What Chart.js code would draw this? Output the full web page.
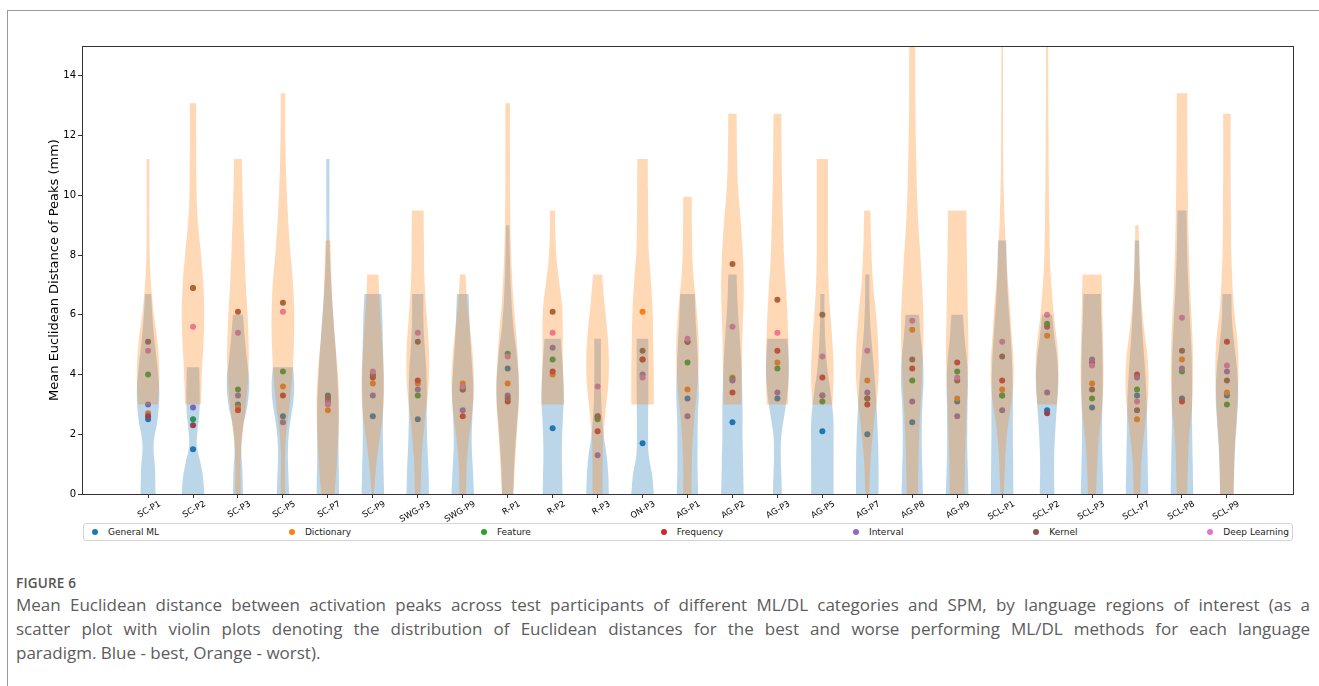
<!DOCTYPE html>
<html>
<head>
<meta charset="utf-8">
<script src="https://cdn.jsdelivr.net/npm/chart.js@4.4.1/dist/chart.umd.min.js"></script>
<style>
  body { margin: 0; background: #fff; }
  #wrap { position: relative; width: 1319px; height: 686px; overflow: hidden; background: #fff; }
  #frame { position: absolute; left: 7px; top: 10px; right: -2px; bottom: -2px;
           border-top: 1px solid #9a9a9a; border-left: 1px solid #9a9a9a; }
  #c { position: absolute; left: 0; top: 0; }
  #legend { position: absolute; left: 83px; top: 523px; width: 1197px; height: 16px;
            border: 1px solid #d4d4d4; border-radius: 3px; background: #fff;
            display: flex; justify-content: space-between; align-items: center;
            padding: 0 3px 0 8px; font: 9px "DejaVu Sans", sans-serif; color: #222; }
  #legend .item { display: flex; align-items: center; white-space: nowrap; }
  #legend .dot { width: 6px; height: 6px; border-radius: 50%; margin-right: 10px; }
  #figno { position: absolute; left: 16px; top: 574px; font: 600 13.5px "Open Sans", sans-serif;
           color: #555; letter-spacing: 0.2px; }
  #caption { position: absolute; left: 16px; top: 593px; width: 1294px;
             font-family: "Open Sans", sans-serif; font-size: 17px; line-height: 24px; color: #5c5c5c; }
  #caption div { white-space: nowrap; }
  #caption .j { text-align: justify; text-align-last: justify; }
</style>
</head>
<body>
<div id="wrap">
  <div id="frame"></div>
  <canvas id="c" width="1319" height="560"></canvas>
  <div id="legend"></div>
  <div id="figno">FIGURE 6</div>
  <div id="caption">
    <div class="ln"><span>Mean Euclidean distance between activation peaks across test participants of different ML/DL categories and SPM, by language regions of interest (as a</span></div>
    <div class="ln"><span>scatter plot with violin plots denoting the distribution of Euclidean distances for the best and worse performing ML/DL methods for each language</span></div>
    <div><span>paradigm. Blue - best, Orange - worst).</span></div>
  </div>
</div>
<script>
const categories = ['SC-P1', 'SC-P2', 'SC-P3', 'SC-P5', 'SC-P7', 'SC-P9', 'SWG-P3', 'SWG-P9',
  'R-P1', 'R-P2', 'R-P3', 'ON-P3', 'AG-P1', 'AG-P2', 'AG-P3', 'AG-P5', 'AG-P7', 'AG-P8',
  'AG-P9', 'SCL-P1', 'SCL-P2', 'SCL-P3', 'SCL-P7', 'SCL-P8', 'SCL-P9'];

const seriesNames = ['General ML', 'Dictionary', 'Feature', 'Frequency', 'Interval', 'Kernel', 'Deep Learning'];

// mean distance per region, one array per method category
const generalML    = [2.5, 1.5, 3.0, 2.6, 3.3, 2.6, 2.5, 3.6, 4.2, 2.2, 2.55, 1.7, 3.2, 2.4, 3.2, 2.1, 2.0, 2.4, 3.1, 3.3, 2.8, 2.9, 3.3, 3.2, 3.3];
const dictionary   = [2.7, 6.9, 2.9, 3.6, 2.8, 3.7, 3.7, 3.7, 3.7, 4.0, 2.6, 6.1, 3.5, 3.9, 4.4, 3.3, 3.8, 5.5, 3.2, 3.5, 5.3, 3.7, 2.5, 4.5, 3.4];
const feature      = [4.0, 2.5, 3.5, 4.1, 3.2, 3.95, 3.3, 3.5, 4.7, 4.5, 2.5, 4.5, 4.4, 3.85, 4.2, 3.1, 3.2, 3.8, 4.1, 3.3, 5.7, 3.2, 3.5, 4.1, 3.0];
const frequency    = [2.6, 2.3, 2.8, 3.3, 3.1, 3.9, 3.8, 2.6, 3.1, 4.1, 2.1, 4.5, 5.1, 3.4, 4.8, 3.9, 3.0, 4.2, 4.4, 3.8, 2.7, 4.4, 4.0, 3.1, 5.1];
const interval     = [3.0, 2.9, 3.3, 2.4, 3.15, 3.3, 3.5, 2.8, 3.3, 4.9, 1.3, 4.0, 2.6, 3.8, 3.4, 3.3, 3.4, 3.1, 2.6, 2.8, 3.4, 4.5, 3.9, 4.2, 4.1];
const kernel       = [5.1, 6.9, 6.1, 6.4, 3.25, 4.0, 5.1, 3.5, 3.2, 6.1, 2.6, 4.8, 5.1, 7.7, 6.5, 6.0, 3.2, 4.5, 3.8, 4.6, 5.6, 3.5, 2.8, 4.8, 3.8];
const deepLearning = [4.8, 5.6, 5.4, 6.1, 3.0, 4.1, 5.4, 3.6, 4.6, 5.4, 3.6, 3.9, 5.2, 5.6, 5.4, 4.6, 4.8, 5.8, 3.9, 5.1, 6.0, 4.3, 3.1, 5.9, 4.3];

const yTicks = [0, 2, 4, 6, 8, 10, 12, 14];

// violins: value range and relative density at evenly spaced levels from low to high
const bestLow  = [0, 0, 0, 0, 0, 0, 0, 0, 0, 0, 0, 0, 0, 0, 0, 0, 0, 0, 0, 0, 0, 0, 0, 0, 0];
const bestHigh = [6.7, 4.24, 6.0, 4.24, 11.22, 6.7, 6.7, 6.7, 9.0, 5.2, 5.2, 5.2, 6.7, 7.35, 5.2, 6.7, 7.35, 6.0, 6.0, 8.49, 6.0, 6.7, 8.49, 9.49, 6.7];
const bestDensity = [
  [0.67, 0.62, 0.5, 0.85, 1.0, 0.85, 0.6, 0.4, 0.27],
  [1.0, 0.9, 0.65, 0.35, 0.4, 0.55, 0.6, 0.58, 0.55],
  [0.45, 0.4, 0.3, 0.45, 0.85, 1.0, 0.8, 0.6, 0.45],
  [0.55, 0.5, 0.45, 0.45, 0.55, 0.75, 0.95, 1.0, 0.9],
  [1.0, 0.95, 0.95, 0.8, 0.55, 0.3, 0.15, 0.14, 0.14],
  [1.0, 0.95, 0.9, 0.9, 0.95, 0.95, 0.9, 0.85, 0.75],
  [1.0, 0.95, 0.85, 0.8, 0.8, 0.75, 0.6, 0.5, 0.5],
  [1.0, 0.9, 0.8, 0.85, 0.95, 0.85, 0.7, 0.6, 0.52],
  [0.5, 0.6, 0.8, 1.0, 0.85, 0.5, 0.3, 0.2, 0.15],
  [0.88, 0.85, 0.82, 0.85, 0.92, 1.0, 0.95, 0.85, 0.72],
  [1.0, 0.95, 0.8, 0.55, 0.4, 0.32, 0.3, 0.3, 0.3],
  [1.0, 0.85, 0.55, 0.5, 0.5, 0.52, 0.52, 0.52, 0.52],
  [0.95, 0.9, 0.9, 0.92, 1.0, 0.95, 0.85, 0.72, 0.65],
  [1.0, 0.95, 0.9, 0.9, 0.85, 0.75, 0.6, 0.45, 0.37],
  [0.4, 0.35, 0.3, 0.35, 0.6, 0.85, 1.0, 1.0, 0.9],
  [1.0, 1.0, 1.0, 0.98, 0.75, 0.45, 0.28, 0.2, 0.18],
  [1.0, 1.0, 0.95, 0.85, 0.7, 0.5, 0.3, 0.2, 0.18],
  [0.95, 0.9, 0.85, 0.85, 0.9, 1.0, 0.95, 0.75, 0.6],
  [1.0, 0.95, 0.9, 0.9, 0.92, 0.95, 0.85, 0.65, 0.52],
  [1.0, 0.98, 0.95, 0.95, 0.9, 0.75, 0.55, 0.42, 0.37],
  [0.65, 0.62, 0.65, 0.75, 0.88, 1.0, 0.9, 0.65, 0.45],
  [1.0, 0.95, 0.9, 0.9, 0.95, 0.95, 0.9, 0.82, 0.77],
  [1.0, 0.95, 0.9, 0.85, 0.7, 0.5, 0.35, 0.25, 0.2],
  [1.0, 0.95, 0.9, 0.9, 0.85, 0.7, 0.55, 0.45, 0.4],
  [0.6, 0.65, 0.75, 0.9, 1.0, 0.9, 0.65, 0.45, 0.4]
];

const worstLow  = [3, 3, 0, 0, 0, 0, 0, 0, 0, 3, 0, 3, 0, 3, 3, 3, 0, 0, 0, 0, 3, 0, 0, 0, 0];
const worstHigh = [11.22, 13.08, 11.22, 13.42, 8.49, 7.35, 9.49, 7.35, 13.08, 9.49, 7.35, 11.22, 9.95, 12.73, 12.73, 11.22, 9.49, 15, 9.49, 15, 15, 7.35, 9.0, 13.42, 12.73];
const worstDensity = [
  [0.9, 1.0, 0.85, 0.5, 0.25, 0.14, 0.12, 0.12, 0.12],
  [0.7, 0.82, 0.98, 0.95, 0.7, 0.4, 0.3, 0.28, 0.28],
  [0.24, 0.27, 0.65, 0.95, 0.9, 0.7, 0.55, 0.42, 0.35],
  [0.2, 0.22, 0.7, 0.98, 0.95, 0.6, 0.35, 0.22, 0.2],
  [0.6, 0.8, 0.95, 1.0, 0.85, 0.6, 0.4, 0.3, 0.22],
  [0.1, 0.3, 0.6, 0.9, 1.0, 0.9, 0.75, 0.6, 0.5],
  [0.25, 0.35, 0.6, 0.95, 1.0, 0.8, 0.6, 0.55, 0.52],
  [0.3, 0.35, 0.55, 0.85, 1.0, 0.9, 0.65, 0.4, 0.25],
  [0.5, 0.75, 1.0, 0.85, 0.5, 0.3, 0.22, 0.2, 0.2],
  [1.0, 0.95, 0.9, 0.9, 0.85, 0.6, 0.35, 0.25, 0.22],
  [0.45, 0.45, 0.5, 0.7, 0.95, 1.0, 0.85, 0.6, 0.4],
  [1.0, 1.0, 0.95, 0.9, 0.75, 0.55, 0.5, 0.48, 0.46],
  [0.37, 0.4, 0.6, 0.9, 1.0, 0.8, 0.5, 0.4, 0.38],
  [0.8, 0.85, 0.9, 1.0, 0.95, 0.75, 0.5, 0.4, 0.37],
  [0.95, 1.0, 0.95, 0.8, 0.6, 0.5, 0.42, 0.37, 0.35],
  [0.9, 1.0, 0.9, 0.7, 0.55, 0.5, 0.5, 0.5, 0.5],
  [0.18, 0.3, 0.6, 0.95, 1.0, 0.8, 0.5, 0.35, 0.27],
  [0.5, 0.6, 0.85, 1.0, 0.8, 0.5, 0.35, 0.28, 0.27],
  [0.66, 0.7, 0.8, 0.9, 1.0, 0.95, 0.9, 0.85, 0.82],
  [0.15, 0.4, 1.0, 0.8, 0.45, 0.2, 0.1, 0.08, 0.07],
  [0.88, 1.0, 0.6, 0.3, 0.2, 0.15, 0.12, 0.1, 0.1],
  [0.37, 0.45, 0.6, 0.85, 1.0, 1.0, 0.95, 0.9, 0.85],
  [0.3, 0.4, 0.7, 1.0, 0.95, 0.6, 0.35, 0.2, 0.15],
  [0.47, 0.6, 0.95, 0.95, 0.75, 0.6, 0.52, 0.48, 0.47],
  [0.6, 0.7, 0.95, 1.0, 0.6, 0.4, 0.35, 0.33, 0.33]
];

const seriesValues = [generalML, dictionary, feature, frequency, interval, kernel, deepLearning];
const colors = ['#1f77b4', '#ff7f0e', '#2ca02c', '#d62728', '#9467bd', '#8c564b', '#e377c2'];
const HALF = 0.25; // half of the violin width, in category units
const FONT = '"DejaVu Sans", sans-serif';

// outline of one violin: up the left side, down the right side (ends doubled so they stay flat)
function violinOutline(pos, lo, hi, dens) {
  const n = dens.length - 1;
  const left = dens.map((d, i) => ({x: pos - d * HALF, y: lo + (hi - lo) * i / n}));
  const right = dens.map((d, i) => ({x: pos + d * HALF, y: lo + (hi - lo) * i / n})).reverse();
  return [left[0], ...left, left[n], right[0], ...right, right[n]];
}

const datasets = [];

seriesValues.forEach((vals, s) => {
  datasets.push({
    label: seriesNames[s],
    data: vals.map((v, i) => ({x: i, y: v})),
    backgroundColor: colors[s],
    borderWidth: 0,
    pointRadius: 3,
    order: 9 - s
  });
});

categories.forEach((c, i) => {
  datasets.push({
    label: 'best ' + c,
    data: violinOutline(i, bestLow[i], bestHigh[i], bestDensity[i]),
    showLine: true, fill: 'shape', tension: 0.4,
    backgroundColor: 'rgba(31,119,180,0.3)', borderWidth: 0, pointRadius: 0,
    order: 2
  });
  datasets.push({
    label: 'worst ' + c,
    data: violinOutline(i, worstLow[i], worstHigh[i], worstDensity[i]),
    showLine: true, fill: 'shape', tension: 0.4,
    backgroundColor: 'rgba(255,127,14,0.3)', borderWidth: 0, pointRadius: 0,
    order: 1
  });
});

const frameBox = {
  id: 'frameBox',
  afterDraw(chart) {
    const {ctx, chartArea: a} = chart;
    ctx.save();
    ctx.strokeStyle = '#333';
    ctx.lineWidth = 1;
    ctx.strokeRect(Math.round(a.left) + 0.5, Math.round(a.top) + 0.5,
      Math.round(a.right - a.left), Math.round(a.bottom - a.top));
    ctx.restore();
  }
};

new Chart(document.getElementById('c'), {
  type: 'scatter',
  data: {datasets},
  options: {
    responsive: false,
    animation: false,
    events: [],
    layout: {padding: {left: 43, right: 26, top: 46, bottom: 0}},
    plugins: {legend: {display: false}, tooltip: {enabled: false}},
    scales: {
      x: {
        type: 'linear', min: -1.47, max: 25.47,
        afterBuildTicks: s => { s.ticks = categories.map((c, i) => ({value: i})); },
        afterFit: s => { s.height = 66; },
        grid: {drawOnChartArea: false, tickLength: 4, color: '#333'},
        border: {color: '#333'},
        ticks: {
          callback: v => categories[v],
          minRotation: 30, maxRotation: 30, autoSkip: false,
          labelOffset: 12, padding: 1,
          color: '#000', font: {family: FONT, size: 8.5}
        }
      },
      y: {
        min: 0, max: 15,
        afterBuildTicks: s => { s.ticks = yTicks.map(v => ({value: v})); },
        afterFit: s => { s.width = 39; },
        grid: {drawOnChartArea: false, tickLength: 4, color: '#333'},
        border: {color: '#333'},
        ticks: {padding: 2, color: '#000', font: {family: FONT, size: 10}},
        title: {display: true, text: 'Mean Euclidean Distance of Peaks (mm)',
                color: '#000', font: {family: FONT, size: 13}, padding: 4}
      }
    }
  },
  plugins: [frameBox]
});

const legend = document.getElementById('legend');
seriesNames.forEach((name, s) => {
  const item = document.createElement('span');
  item.className = 'item';
  item.innerHTML = '<span class="dot" style="background:' + colors[s] + '"></span>' + name;
  legend.appendChild(item);
});

// shrink the caption font until the first line fits, then justify the two full lines
const caption = document.getElementById('caption');
const firstLine = caption.querySelector('.ln span');
let capSize = 17;
while (firstLine.offsetWidth > 1288 && capSize > 12) {
  capSize -= 0.25;
  caption.style.fontSize = capSize + 'px';
}
caption.querySelectorAll('.ln').forEach(d => d.classList.add('j'));
</script>
</body>
</html>
